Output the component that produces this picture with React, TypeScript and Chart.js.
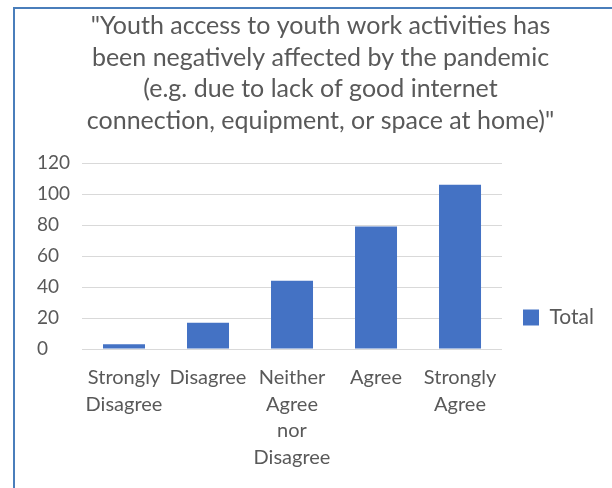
import React, { useEffect, useRef } from "react";
import { Chart, registerables } from "chart.js";

Chart.register(...registerables);

const titleLines = [
  '"Youth access to youth work activities has',
  "been negatively affected by the pandemic",
  "(e.g. due to lack of good internet",
  'connection, equipment, or space at home)"',
];

const categories: string[][] = [
  ["Strongly", "Disagree"],
  ["Disagree"],
  ["Neither", "Agree", "nor", "Disagree"],
  ["Agree"],
  ["Strongly", "Agree"],
];

const seriesLabel = "Total";
const totals = [3, 17, 44, 79, 106];

const yMin = 0;
const yMax = 120;
const yStep = 20;

const FONT = "Lato, 'Open Sans', sans-serif";
const TEXT = "#595959";

export default function App() {
  const ref = useRef<HTMLCanvasElement | null>(null);

  useEffect(() => {
    if (!ref.current) return;
    const chart = new Chart(ref.current, {
      type: "bar",
      data: {
        labels: categories,
        datasets: [
          {
            label: seriesLabel,
            data: totals,
            backgroundColor: "#4472c4",
            borderWidth: 0,
            barPercentage: 0.5,
            categoryPercentage: 1.0,
          },
        ],
      },
      options: {
        responsive: false,
        animation: false,
        devicePixelRatio: 1,
        layout: { padding: { left: 37, right: 8, top: 0, bottom: 0 } },
        plugins: {
          title: {
            display: true,
            text: titleLines,
            color: TEXT,
            font: { family: FONT, size: 25, weight: "normal", lineHeight: 31.5 / 25 },
            padding: { top: 10.25, bottom: 26.75 },
          },
          legend: {
            display: true,
            position: "right",
            align: "end",
            fullSize: false,
            labels: {
              color: TEXT,
              font: { family: FONT, size: 21 },
              boxWidth: 16,
              boxHeight: 16,
              padding: 21,
            },
          },
          tooltip: { enabled: false },
        },
        scales: {
          x: {
            grid: { display: false, drawTicks: false },
            border: { display: false },
            ticks: {
              color: TEXT,
              font: { family: FONT, size: 20, lineHeight: 26.7 / 20 },
              padding: 15,
              autoSkip: false,
              maxRotation: 0,
              minRotation: 0,
            },
            afterFit: (axis: any) => {
              axis.height = 139;
            },
          },
          y: {
            min: yMin,
            max: yMax,
            grid: { color: "#d9d9d9", lineWidth: 1, drawTicks: false },
            border: { display: false },
            ticks: {
              stepSize: yStep,
              color: TEXT,
              font: { family: FONT, size: 19 },
              crossAlign: "far",
              padding: 12,
            },
            afterFit: (axis: any) => {
              axis.width = 45;
            },
          },
        },
      },
    });
    return () => chart.destroy();
  }, []);

  return (
    <div
      style={{
        position: "fixed",
        left: 0,
        top: 0,
        width: 612,
        height: 488,
        background: "#ffffff",
        overflow: "hidden",
      }}
    >
      <canvas ref={ref} width={612} height={488} style={{ display: "block" }} />
      <div
        style={{
          position: "absolute",
          left: 13,
          top: 7,
          width: 700,
          height: 600,
          border: "2px solid #4a7ebb",
          pointerEvents: "none",
        }}
      />
    </div>
  );
}
